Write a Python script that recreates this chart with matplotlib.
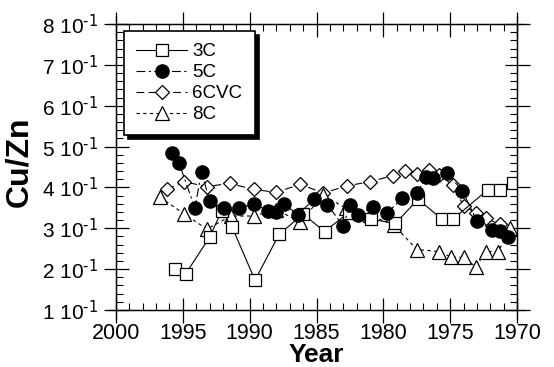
import numpy as np
import matplotlib
matplotlib.use('Agg')
import matplotlib.pyplot as plt

plt.rcParams['font.family'] = ['Liberation Sans', 'DejaVu Sans']
plt.rcParams['mathtext.default'] = 'regular'
plt.rcParams['axes.unicode_minus'] = False

# data
year_3c = [1995.6, 1994.8, 1993.0, 1992.1, 1991.3, 1989.6, 1987.8, 1986.0, 1984.4,
           1982.6, 1980.9, 1979.1, 1977.4, 1975.6, 1974.8, 1972.2, 1971.3, 1970.3]
cu_3c = [0.200, 0.188, 0.278, 0.342, 0.302, 0.173, 0.285, 0.335, 0.292,
         0.338, 0.322, 0.312, 0.371, 0.322, 0.322, 0.394, 0.394, 0.410]

year_5c = [1995.8, 1995.3, 1994.1, 1993.6, 1993.0, 1991.9, 1990.8, 1989.7, 1988.6, 1988.0,
           1987.4, 1986.4, 1985.2, 1984.2, 1983.0, 1982.5, 1981.9, 1980.8, 1979.7, 1978.6,
           1977.5, 1976.8, 1976.3, 1975.2, 1974.1, 1973.0, 1971.9, 1971.3, 1970.7]
cu_5c = [0.485, 0.461, 0.350, 0.438, 0.367, 0.349, 0.350, 0.359, 0.343, 0.341,
         0.359, 0.333, 0.371, 0.358, 0.306, 0.357, 0.333, 0.353, 0.338, 0.373,
         0.387, 0.425, 0.424, 0.435, 0.392, 0.318, 0.296, 0.294, 0.279]

year_6cvc = [1996.2, 1994.9, 1993.2, 1991.5, 1989.7, 1988.0, 1986.2, 1984.5, 1982.7, 1981.0,
             1979.3, 1978.4, 1977.5, 1976.6, 1975.8, 1974.8, 1974.0, 1973.1, 1972.3, 1971.3]
cu_6cvc = [0.395, 0.414, 0.402, 0.410, 0.395, 0.388, 0.408, 0.386, 0.404, 0.414,
           0.429, 0.441, 0.432, 0.443, 0.430, 0.406, 0.355, 0.338, 0.324, 0.310]

year_8c = [1996.7, 1994.9, 1993.2, 1991.4, 1989.7, 1988.0, 1986.2, 1984.5, 1982.8, 1981.0,
           1979.2, 1977.5, 1975.8, 1974.9, 1974.0, 1973.1, 1972.3, 1971.4, 1970.5]
cu_8c = [0.376, 0.335, 0.298, 0.330, 0.330, 0.345, 0.316, 0.381, 0.349, 0.332,
         0.308, 0.248, 0.243, 0.229, 0.229, 0.206, 0.243, 0.243, 0.300]

x_ticks = [2000, 1995, 1990, 1985, 1980, 1975, 1970]
y_ticks = [0.1, 0.2, 0.3, 0.4, 0.5, 0.6, 0.7, 0.8]
y_labels = ['%d 10$^{\\text{-1}}$' % k for k in range(1, 9)]

fig = plt.figure(figsize=(5.54, 3.67), dpi=100)
ax = fig.add_axes([0.2094, 0.1553, 0.7238, 0.7793])

lw = 0.8
h6, = ax.plot(year_6cvc, cu_6cvc, color='black', lw=lw, ls=(0, (7, 4)),
              marker='D', ms=7, mfc='white', mec='black', mew=0.9)
h8, = ax.plot(year_8c, cu_8c, color='black', lw=lw, ls=(0, (3, 3)),
              marker='^', ms=10, mfc='white', mec='black', mew=0.9)
h3, = ax.plot(year_3c, cu_3c, color='black', lw=lw, ls='-',
              marker='s', ms=8.5, mfc='white', mec='black', mew=0.9)
h5, = ax.plot(year_5c, cu_5c, color='black', lw=lw, ls=(0, (8, 3, 2, 3)),
              marker='o', ms=9.5, mfc='black', mec='black')

ax.set_xlim(2000, 1970)
ax.set_ylim(0.1, 0.8)
ax.set_xticks(x_ticks)
ax.set_xticklabels([str(v) for v in x_ticks])
ax.set_xticks(np.arange(1970, 2001, 1), minor=True)
ax.set_yticks(y_ticks)
ax.set_yticklabels(y_labels)
ax.set_yticks(np.arange(0.1, 0.8001, 0.02), minor=True)

ax.tick_params(which='major', direction='inout', length=18, width=0.9,
               top=True, right=True)
ax.tick_params(axis='x', which='major', labelsize=15.5, pad=0.5)
ax.tick_params(axis='y', which='major', labelsize=15, pad=4)
ax.tick_params(which='minor', direction='in', length=5, width=0.8, top=True, right=True)
for s in ax.spines.values():
    s.set_linewidth(0.9)

# axis lines run a little past the corners
ext = 0.02
for yy in (0, 1):
    ax.plot([-ext, 1 + ext], [yy, yy], transform=ax.transAxes, color='black', lw=0.9, clip_on=False)
for xx in (0, 1):
    ax.plot([xx, xx], [-ext * 1.4, 1 + ext * 1.4], transform=ax.transAxes, color='black', lw=0.9, clip_on=False)

ax.set_xlabel('Year', fontsize=19, fontweight='bold')
ax.xaxis.set_label_coords(0.5, -0.117)
ax.set_ylabel('Cu/Zn', fontsize=23, fontweight='bold')
ax.yaxis.set_label_coords(-0.205, 0.52)

leg = ax.legend([h3, h5, h6, h8], ['3C', '5C', '6CVC', '8C'], loc='upper left',
                bbox_to_anchor=(0.02, 0.975), borderaxespad=0, fontsize=13.5,
                fancybox=False, edgecolor='black', framealpha=1,
                shadow={'color': 'black', 'alpha': 1, 'ox': 3, 'oy': -3},
                handlelength=2.7, labelspacing=0.2, borderpad=0.65, handletextpad=0.3)
leg.get_frame().set_linewidth(1.2)

fig.savefig('out.png', dpi=100)
